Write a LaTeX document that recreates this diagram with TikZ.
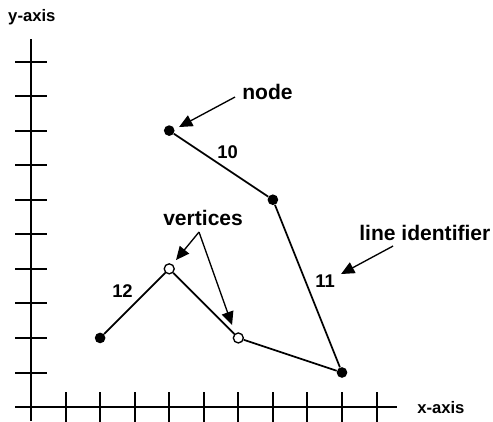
\documentclass[tikz,border=0pt]{standalone}
\usepackage{fontspec}
\setmainfont{Liberation Sans}
\usetikzlibrary{arrows.meta}

\tikzset{
  lbl/.style={anchor=base west, inner sep=0pt, font=\fontsize{15.8}{18}\selectfont\bfseries},
  numlbl/.style={anchor=base west, inner sep=0pt, font=\fontsize{13.8}{16}\selectfont\bfseries},
  axlbl/.style={anchor=base west, inner sep=0pt, font=\fontsize{12.5}{15}\selectfont\bfseries},
  dot/.style={circle, fill=black, inner sep=0pt, minimum size=8pt},
  hollow/.style={circle, draw=black, fill=white, line width=1pt, inner sep=0pt, minimum size=7.5pt},
  pointer/.style={line width=1pt, -{Triangle[length=10pt, width=9pt]}}
}

\begin{document}
\begin{tikzpicture}[x=0.911cm, y=0.911cm]
\useasboundingbox (-0.897,-0.405) rectangle (13.37,11.78);

% ---- Axes ----
\draw[line width=1.8pt] (-0.46,0) -- (10.6,0);
\draw[line width=1.8pt] (0,-0.41) -- (0,10.65);

% ---- Tick marks ----
\foreach \i in {1,...,10} {
  \draw[line width=1.5pt] (\i,-0.43) -- (\i,0.43);
  \draw[line width=1.5pt] (-0.45,\i) -- (0.45,\i);
}

\node[axlbl] (ylbl) at (-0.666,11.17) {y-axis};
\node[axlbl] (xlbl) at (11.17,-0.174) {x-axis};

% ---- Line 10/11 (nodes) ----
\node[dot] (n1) at (4,8) {};
\node[dot] (n2) at (7,6) {};
\node[dot] (n3) at (9,1) {};

% ---- Line 12 (start node + vertices) ----
\node[dot] (n4) at (2,2) {};
\node[hollow] (v1) at (4,4) {};
\node[hollow] (v2) at (6,2) {};

\draw[line width=1.3pt] (n1) -- (n2) -- (n3);
\draw[line width=1.3pt] (n4) -- (v1) -- (v2) -- (n3);

% ---- Line identifiers ----
\node[numlbl] (id10) at (5.383,7.207) {10};
\node[numlbl] (id11) at (8.22,3.473) {11};
\node[numlbl] (id12) at (2.344,3.184) {12};

% ---- Callouts ----
\node[lbl] (nodelbl) at (6.107,8.915) {node};
\node[lbl] (vertlbl) at (3.82,5.268) {vertices};
\node[lbl] (idlbl) at (9.493,4.834) {line identifier};

\coordinate (nodetail) at (5.904,8.972);
\coordinate (nodetip) at (4.284,8.104);
\coordinate (verttail) at (4.862,5.065);
\coordinate (verttip1) at (4.197,4.255);
\coordinate (verttip2) at (5.818,2.373);
\coordinate (idtail) at (10.478,4.66);
\coordinate (idtip) at (8.972,3.85);

\draw[pointer] (nodetail) -- (nodetip);
\draw[pointer] (verttail) -- (verttip1);
\draw[pointer] (verttail) -- (verttip2);
\draw[pointer] (idtail) -- (idtip);

\end{tikzpicture}
\end{document}
